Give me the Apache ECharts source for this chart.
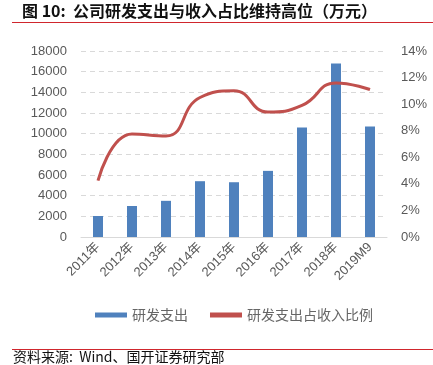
<!DOCTYPE html>
<html>
<head>
<meta charset="utf-8">
<script src="https://cdn.jsdelivr.net/npm/echarts@6/dist/echarts.min.js"></script>
<style>
html, body { margin: 0; padding: 0; background: #fff; }
#content { width: 433px; height: 365px; }
</style>
</head>
<body>
<div id="content"></div>
<script>
var years = ['2011年', '2012年', '2013年', '2014年', '2015年', '2016年', '2017年', '2018年', '2019M9'];
var rdSpend = [2030, 3000, 3500, 5400, 5300, 6400, 10600, 16800, 10700];
var rdRatio = [4.25, 7.75, 7.6, 10.5, 11.0, 9.4, 9.9, 11.6, 11.1];

var myChart = echarts.init(document.getElementById('content'));

var font = '"Liberation Sans", Arial, "Noto Sans CJK SC", sans-serif';

var option = {
    animation: false,
    textStyle: { fontFamily: font },
    grid: { left: 81, right: 46, top: 51, bottom: 128 },
    graphic: [
        {
            type: 'text', left: 22, top: 3,
            style: { text: '图 10:  公司研发支出与收入占比维持高位（万元）', font: 'bold 16px "Noto Sans CJK SC", sans-serif', fill: '#111' }
        },
        { type: 'rect', shape: { x: 12, y: 22, width: 421, height: 1 }, style: { fill: '#d0262d' } },
        { type: 'rect', shape: { x: 12, y: 349, width: 421, height: 1 }, style: { fill: '#d0262d' } },
        {
            type: 'text', left: 13, top: 350,
            style: { text: '资料来源:  Wind、国开证券研究部', font: '14px "Noto Sans CJK SC", sans-serif', fill: '#111' }
        }
    ],
    legend: {
        bottom: 38,
        left: 90,
        itemGap: 22,
        itemWidth: 32,
        itemHeight: 5,
        textStyle: { color: '#666', fontSize: 14, fontFamily: '"Noto Sans CJK SC", sans-serif' },
        data: [
            { name: '研发支出', icon: 'rect' },
            { name: '研发支出占收入比例', icon: 'rect', itemStyle: { color: '#c0504d' } }
        ]
    },
    xAxis: {
        type: 'category',
        data: years,
        axisLine: { lineStyle: { color: '#d9d9d9' } },
        axisTick: { show: false },
        axisLabel: { color: '#595959', fontSize: 13, rotate: 45, interval: 0, margin: 8 }
    },
    yAxis: [
        {
            type: 'value', min: 0, max: 18000, interval: 2000,
            axisLine: { show: false }, axisTick: { show: false },
            axisLabel: { color: '#595959', fontSize: 13, margin: 14, formatter: function (v) { return String(v); } },
            splitLine: { lineStyle: { color: '#d9d9d9', type: [5, 4] } }
        },
        {
            type: 'value', min: 0, max: 14, interval: 2,
            axisLine: { show: false }, axisTick: { show: false },
            axisLabel: { color: '#595959', fontSize: 13, margin: 14, formatter: '{value}%' },
            splitLine: { show: false }
        }
    ],
    series: [
        {
            name: '研发支出', type: 'bar', data: rdSpend, barWidth: 10,
            itemStyle: { color: '#4f81bd' }
        },
        {
            name: '研发支出占收入比例', type: 'line', yAxisIndex: 1, data: rdRatio,
            smooth: 0.5, symbol: 'none',
            lineStyle: { color: '#c0504d', width: 3 },
            itemStyle: { color: '#c0504d' }
        }
    ]
};

myChart.setOption(option);
</script>
</body>
</html>
